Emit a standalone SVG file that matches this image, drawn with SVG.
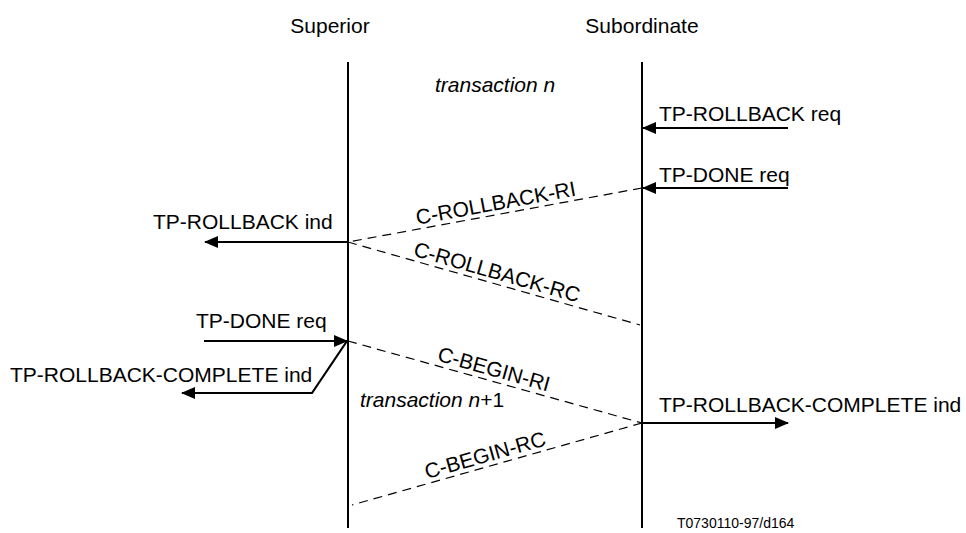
<svg xmlns="http://www.w3.org/2000/svg" width="966" height="533" viewBox="0 0 966 533">
<style>
text{font-family:"Liberation Sans",Arial,sans-serif;font-size:21px;fill:#000}
.it{font-style:italic}
.small{font-size:14px}
.life{stroke:#000;stroke-width:2;fill:none}
.sol{stroke:#000;stroke-width:2.2;fill:none}
.dash{stroke:#000;stroke-width:1.2;stroke-dasharray:9,6;fill:none}
</style>
<defs>
<marker id="ah" viewBox="0 0 14 12" refX="13" refY="6" markerWidth="14" markerHeight="12" markerUnits="userSpaceOnUse" orient="auto">
<path d="M0,0 L14,6 L0,12 Z" fill="#000"/>
</marker>
</defs>
<g id="superior">
<text x="330" y="33" text-anchor="middle">Superior</text>
<line class="life" x1="348" y1="62" x2="348" y2="528"/>
</g>
<g id="subordinate">
<text x="642" y="33" text-anchor="middle">Subordinate</text>
<line class="life" x1="642" y1="62" x2="642" y2="528"/>
</g>
<g id="labels">
<text class="it" x="435" y="92">transaction <tspan>n</tspan></text>
<text class="it" x="360" y="407">transaction n<tspan font-style="normal">+1</tspan></text>
<text x="659" y="121">TP-ROLLBACK req</text>
<text x="659" y="182">TP-DONE req</text>
<text x="153" y="229">TP-ROLLBACK ind</text>
<text x="196" y="328">TP-DONE req</text>
<text x="10" y="382">TP-ROLLBACK-COMPLETE ind</text>
<text x="659" y="412">TP-ROLLBACK-COMPLETE ind</text>
<text class="small" x="677" y="528">T0730110-97/d164</text>
<text transform="translate(497,210) rotate(-10.4)" text-anchor="middle">C-ROLLBACK-RI</text>
<text transform="translate(495,279) rotate(15.9)" text-anchor="middle">C-ROLLBACK-RC</text>
<text transform="translate(492,376) rotate(15.6)" text-anchor="middle">C-BEGIN-RI</text>
<text transform="translate(487,462) rotate(-15.8)" text-anchor="middle">C-BEGIN-RC</text>
</g>
<g id="connectors">
<line class="sol" x1="788" y1="128" x2="643" y2="128" marker-end="url(#ah)"/>
<line class="sol" x1="788" y1="188" x2="643" y2="188" marker-end="url(#ah)"/>
<line class="dash" x1="642" y1="188" x2="348" y2="242"/>
<line class="sol" x1="348" y1="242" x2="205" y2="242" marker-end="url(#ah)"/>
<line class="dash" x1="348" y1="242" x2="640" y2="325"/>
<line class="sol" x1="204" y1="341" x2="347" y2="341" marker-end="url(#ah)"/>
<polyline class="sol" points="347,341 312,393 182,393" marker-end="url(#ah)"/>
<line class="dash" x1="348" y1="341" x2="642" y2="423"/>
<line class="sol" x1="642" y1="423" x2="788" y2="423" marker-end="url(#ah)"/>
<line class="dash" x1="642" y1="423" x2="352" y2="505"/>
</g>
</svg>
